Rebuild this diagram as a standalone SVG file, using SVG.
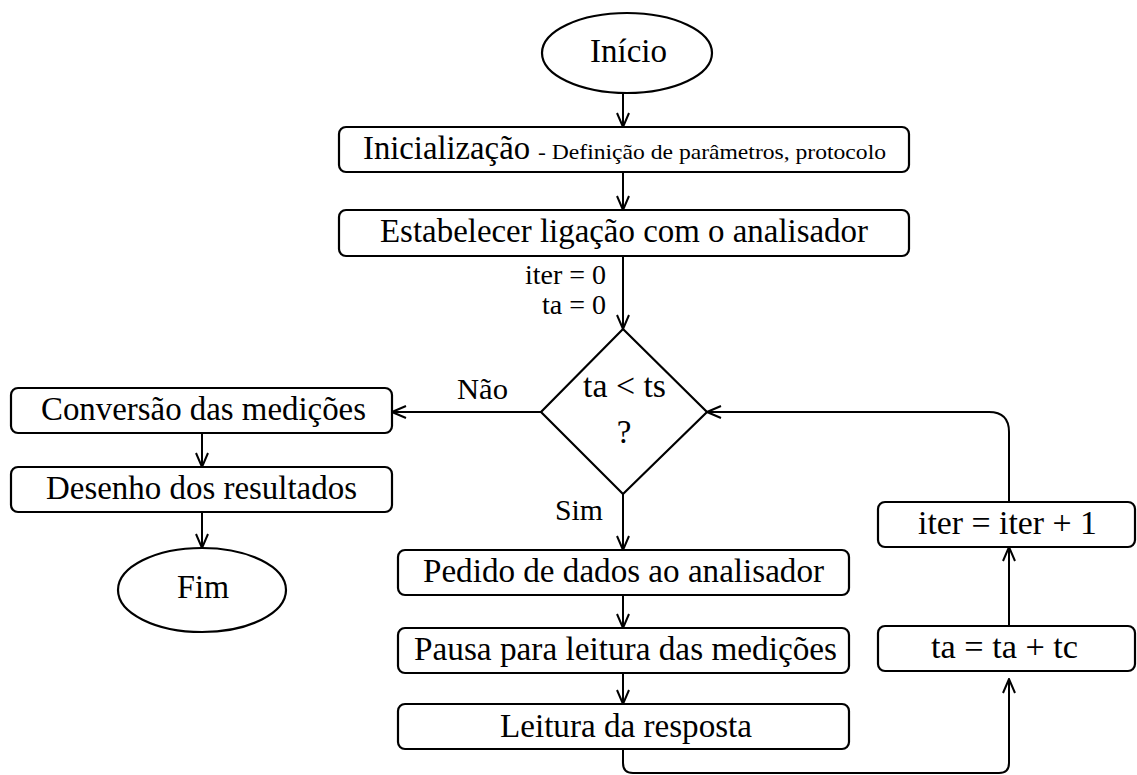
<svg xmlns="http://www.w3.org/2000/svg" width="1137" height="775" viewBox="0 0 1137 775">
<style>
.box{fill:#fff;stroke:#000;stroke-width:2.2}
.t{font-family:"Liberation Serif","Times New Roman",serif;font-size:33px;fill:#000}
.s{font-family:"Liberation Serif","Times New Roman",serif;font-size:21px;fill:#000}
.c{fill:none;stroke:#000;stroke-width:2}
</style>
<defs>
<marker id="arr" markerUnits="userSpaceOnUse" markerWidth="16" markerHeight="14" viewBox="0 0 16 14" refX="15" refY="7" orient="auto">
<path d="M1,1 L15,7 L1,13" fill="none" stroke="#000" stroke-width="2"/>
</marker>
</defs>
<rect width="1137" height="775" fill="#fff"/>
<g id="connectors">
<line class="c" x1="623" y1="93" x2="623" y2="127" marker-end="url(#arr)"/>
<line class="c" x1="623" y1="172" x2="623" y2="210" marker-end="url(#arr)"/>
<line class="c" x1="623" y1="256" x2="623" y2="329" marker-end="url(#arr)"/>
<line class="c" x1="541" y1="412" x2="392" y2="412" marker-end="url(#arr)"/>
<line class="c" x1="202" y1="433" x2="202" y2="467" marker-end="url(#arr)"/>
<line class="c" x1="202" y1="512" x2="202" y2="548" marker-end="url(#arr)"/>
<line class="c" x1="623" y1="494" x2="623" y2="550" marker-end="url(#arr)"/>
<line class="c" x1="623" y1="595" x2="623" y2="628" marker-end="url(#arr)"/>
<line class="c" x1="623" y1="673" x2="623" y2="704" marker-end="url(#arr)"/>
<path class="c" d="M623,749 V763 Q623,773 633,773 H999 Q1009,773 1009,763 V679" marker-end="url(#arr)"/>
<line class="c" x1="1009" y1="626" x2="1009" y2="547" marker-end="url(#arr)"/>
<path class="c" d="M1009,502 V432 Q1009,412 989,412 H707" marker-end="url(#arr)"/>
<text class="t" x="606" y="284" text-anchor="end" style="font-size:28px">iter = 0</text>
<text class="t" x="606" y="314" text-anchor="end" style="font-size:28px">ta = 0</text>
<text class="t" x="457" y="399" style="font-size:30px" textLength="51" lengthAdjust="spacingAndGlyphs">Não</text>
<text class="t" x="555" y="520" style="font-size:30px" textLength="48" lengthAdjust="spacingAndGlyphs">Sim</text>
</g>
<g id="inicio">
<ellipse class="box" cx="627" cy="53" rx="85" ry="40"/>
<text class="t" x="590" y="62" textLength="77" lengthAdjust="spacingAndGlyphs">Início</text>
</g>
<g id="inicializacao">
<rect class="box" x="339" y="127" width="570" height="45" rx="7"/>
<text class="t" x="363" y="159" textLength="167" lengthAdjust="spacingAndGlyphs">Inicialização</text>
<text class="s" x="538" y="159" textLength="348" lengthAdjust="spacingAndGlyphs">- Definição de parâmetros, protocolo</text>
</g>
<g id="estabelecer">
<rect class="box" x="339" y="210" width="570" height="46" rx="7"/>
<text class="t" x="380" y="242" textLength="488" lengthAdjust="spacingAndGlyphs">Estabelecer ligação com o analisador</text>
</g>
<g id="decisao">
<polygon class="box" points="623,329 707,412 623,494 541,412"/>
<text class="t" x="583" y="397" textLength="83" lengthAdjust="spacingAndGlyphs">ta &lt; ts</text>
<text class="t" x="624" y="443" text-anchor="middle">?</text>
</g>
<g id="conversao">
<rect class="box" x="11" y="388" width="381" height="45" rx="7"/>
<text class="t" x="41" y="420" textLength="325" lengthAdjust="spacingAndGlyphs">Conversão das medições</text>
</g>
<g id="desenho">
<rect class="box" x="11" y="467" width="381" height="45" rx="7"/>
<text class="t" x="46" y="499" textLength="311" lengthAdjust="spacingAndGlyphs">Desenho dos resultados</text>
</g>
<g id="fim">
<ellipse class="box" cx="202" cy="590" rx="84" ry="42"/>
<text class="t" x="177" y="598" textLength="52" lengthAdjust="spacingAndGlyphs">Fim</text>
</g>
<g id="pedido">
<rect class="box" x="398" y="550" width="451" height="45" rx="7"/>
<text class="t" x="423" y="582" textLength="401" lengthAdjust="spacingAndGlyphs">Pedido de dados ao analisador</text>
</g>
<g id="pausa">
<rect class="box" x="398" y="628" width="451" height="45" rx="7"/>
<text class="t" x="414" y="660" textLength="423" lengthAdjust="spacingAndGlyphs">Pausa para leitura das medições</text>
</g>
<g id="leitura">
<rect class="box" x="398" y="704" width="451" height="45" rx="7"/>
<text class="t" x="500" y="737" textLength="252" lengthAdjust="spacingAndGlyphs">Leitura da resposta</text>
</g>
<g id="iter">
<rect class="box" x="878" y="502" width="257" height="45" rx="7"/>
<text class="t" x="918" y="534" textLength="179" lengthAdjust="spacingAndGlyphs">iter = iter + 1</text>
</g>
<g id="ta">
<rect class="box" x="878" y="626" width="257" height="45" rx="7"/>
<text class="t" x="931" y="658" textLength="147" lengthAdjust="spacingAndGlyphs">ta = ta + tc</text>
</g>
</svg>
